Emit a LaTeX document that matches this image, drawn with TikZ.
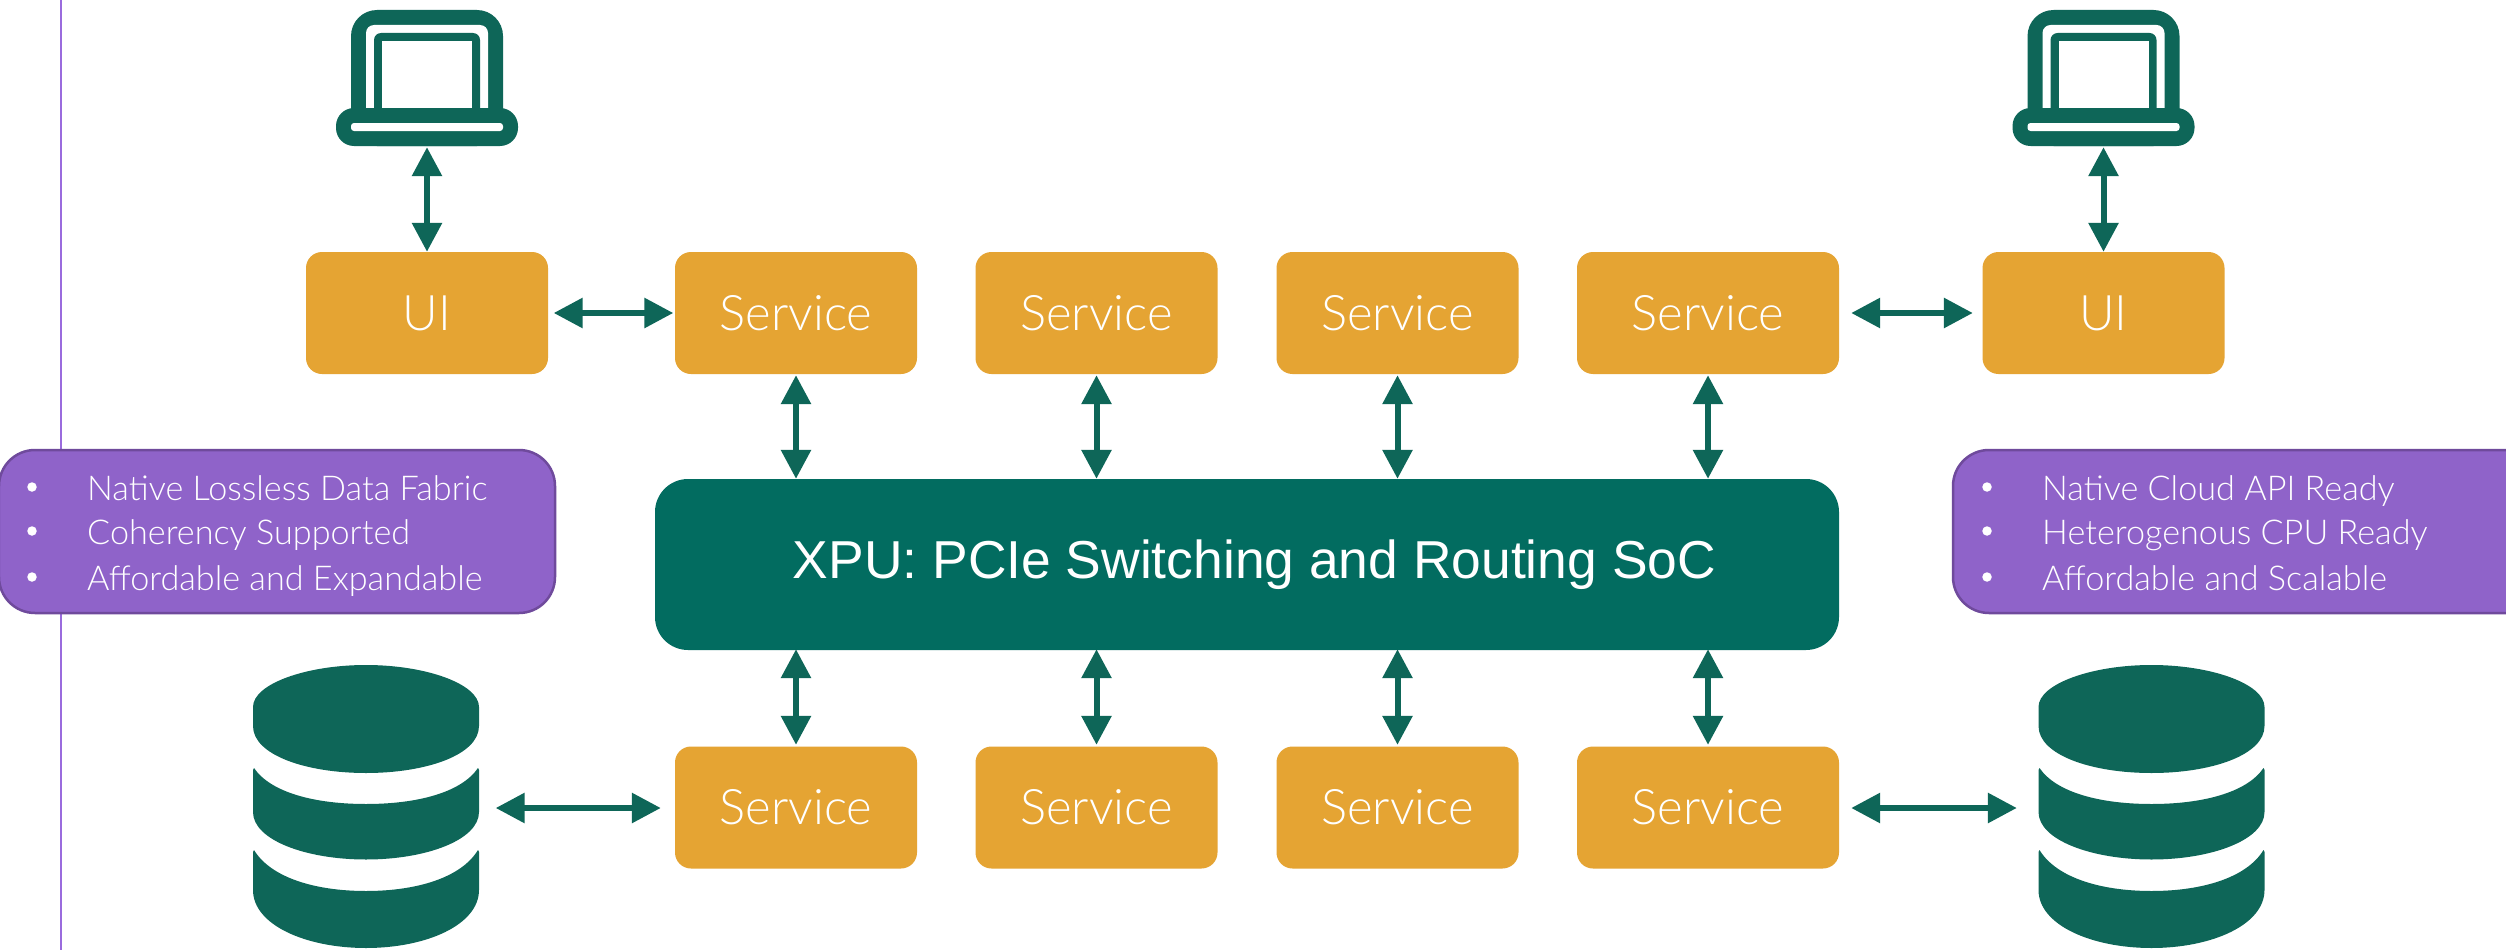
\documentclass[tikz,border=0pt]{standalone}
\usepackage{fontspec}
\setmainfont{Lato Light}
\newfontfamily\xpufont{Liberation Sans}
\usetikzlibrary{arrows.meta,calc}
\definecolor{tealdark}{HTML}{0E6658}
\definecolor{tealchip}{HTML}{026C60}
\definecolor{amberbox}{HTML}{E5A433}
\definecolor{violetbox}{HTML}{8F63C9}
\definecolor{violetedge}{HTML}{6F4A9C}
\definecolor{violetline}{HTML}{9A6BDD}
\tikzset{
  x=1pt,y=-1pt,
  svcbox/.style={rectangle,rounded corners=16pt,fill=amberbox,draw=none,minimum width=242pt,minimum height=122pt,inner sep=0pt,text=white,font=\fontsize{49}{54}\selectfont},
  chipbox/.style={rectangle,rounded corners=33pt,fill=tealchip,draw=none,minimum width=1184pt,minimum height=171pt,inner sep=0pt,text=white,font=\xpufont\fontsize{53.4}{60}\selectfont},
  notebox/.style={rectangle,rounded corners=36pt,fill=violetbox,draw=violetedge,line width=2.5pt},
  notetext/.style={anchor=base west,inner sep=0pt,text=white,font=\fontsize{34.2}{40}\selectfont},
  notedot/.style={circle,fill=white,draw=none,minimum size=9.5pt,inner sep=0pt},
  iconbox/.style={rectangle,draw=none,fill=none,inner sep=0pt},
  link/.style={draw=tealdark,line width=6pt,{Triangle[width=29pt,length=29pt]}-{Triangle[width=29pt,length=29pt]}},
}
\newcommand{\laptopicon}[1]{%
  \begin{scope}[shift={(#1,0)}]
    \fill[tealdark,rounded corners=26pt] (-76,10) rectangle (76,146);
    \fill[white,rounded corners=8pt] (-61,25) rectangle (61,130);
    \fill[tealdark,rounded corners=7pt] (-53,33) rectangle (53,130);
    \fill[white] (-45,41) rectangle (45,112);
    \fill[tealdark,rounded corners=18pt] (-91,108) rectangle (91,146);
    \fill[white,rounded corners=3pt] (-76,123) rectangle (76,131);
  \end{scope}}
\newcommand{\dbicon}[1]{%
  \begin{scope}[shift={(#1,0)}]
    \fill[tealdark] (-113,707) .. controls (-113,684) and (-60,665) .. (0,665) .. controls (60,665) and (113,684) .. (113,707)
      -- (113,726) .. controls (113,755) and (60,773) .. (0,773) .. controls (-60,773) and (-113,755) .. (-113,726) -- cycle;
    \fill[tealdark] (-112,768) .. controls (-95,793) and (-50,804) .. (0,804) .. controls (50,804) and (95,793) .. (112,768)
      -- (113,770) -- (113,812) .. controls (113,840) and (60,859.5) .. (0,859.5) .. controls (-60,859.5) and (-113,840) .. (-113,812) -- (-113,770) -- cycle;
    \fill[tealdark] (-112,850) .. controls (-95,878) and (-50,891) .. (0,891) .. controls (50,891) and (95,878) .. (112,850)
      -- (113,852) -- (113,890) .. controls (113,925) and (60,948) .. (0,948) .. controls (-60,948) and (-113,925) .. (-113,890) -- (-113,852) -- cycle;
  \end{scope}}
\begin{document}
\begin{tikzpicture}
  \useasboundingbox (0,0) rectangle (2506,950);
  \fill[white] (0,0) rectangle (2506,950);
  \coordinate (ruleT) at (61,0);
  \coordinate (ruleB) at (61,950);
  \draw[violetline,line width=1.2pt] (ruleT) -- (ruleB);

  % icons
  \laptopicon{427}
  \laptopicon{2103.5}
  \dbicon{366}
  \dbicon{2151.5}
  \node[iconbox,minimum width=182pt,minimum height=136pt] (lapL) at (427,78) {};
  \node[iconbox,minimum width=182pt,minimum height=136pt] (lapR) at (2103.5,78) {};
  \node[iconbox,minimum width=226pt,minimum height=284pt] (dbL) at (366,808) {};
  \node[iconbox,minimum width=226pt,minimum height=284pt] (dbR) at (2151.5,808) {};

  % boxes
  \node[svcbox] (uiL) at (427,313) {UI};
  \node[svcbox] (uiR) at (2103.5,313) {UI};
  \node[svcbox] (t1) at (796,313) {Service};
  \node[svcbox] (t2) at (1096.5,313) {Service};
  \node[svcbox] (t3) at (1397.5,313) {Service};
  \node[svcbox,minimum width=262pt] (t4) at (1708,313) {Service};
  \node[svcbox] (b1) at (796,807.5) {Service};
  \node[svcbox] (b2) at (1096.5,807.5) {Service};
  \node[svcbox] (b3) at (1397.5,807.5) {Service};
  \node[svcbox,minimum width=262pt] (b4) at (1708,807.5) {Service};
  \node[chipbox] (xpu) at (1247,564.5) {\hspace*{15pt}XPU: PCIe Switching and Routing SoC};

  % notes
  \node[notebox,minimum width=556pt,minimum height=163pt] (noteL) at (277,531.5) {};
  \node[notebox,minimum width=596pt,minimum height=163pt] (noteR) at (2251,531.5) {};
  \node[notedot] (dl1) at (32,487) {};
  \node[notedot] (dl2) at (32,531) {};
  \node[notedot] (dl3) at (32,577) {};
  \node[notetext] (tl1) at (87,500) {Native Lossless Data Fabric};
  \node[notetext] (tl2) at (87,544) {Coherency Supported};
  \node[notetext] (tl3) at (87,590) {Affordable and Expandable};
  \node[notedot] (dr1) at (1987,487) {};
  \node[notedot] (dr2) at (1987,531) {};
  \node[notedot] (dr3) at (1987,577) {};
  \node[notetext] (tr1) at (2042,500) {Native Cloud API Ready};
  \node[notetext] (tr2) at (2042,544) {Heterogenous CPU Ready};
  \node[notetext] (tr3) at (2042,590) {Affordable and Scalable};

  % connectors
  \draw[link,shorten <=1pt] (lapL.south) -- (uiL.north);
  \draw[link,shorten <=1pt] (lapR.south) -- (uiR.north);
  \draw[link,shorten <=5.5pt,shorten >=1.5pt] (uiL.east) -- (t1.west);
  \draw[link,shorten <=12pt,shorten >=9.5pt] (t4.east) -- (uiR.west);
  \foreach \n in {1,2,3,4}{
    \draw[link,shorten <=1pt] (t\n.south) -- (t\n.south |- xpu.north);
    \draw[link,shorten <=-1pt,shorten >=1.5pt] (xpu.south -| b\n.north) -- (b\n.north);
  }
  \draw[link,shorten <=16.5pt,shorten >=14pt] (dbL.east) -- (dbL.east -| b1.west);
  \draw[link,shorten <=12pt,shorten >=21.5pt] (dbR.west -| b4.east) -- (dbR.west);
\end{tikzpicture}
\end{document}
